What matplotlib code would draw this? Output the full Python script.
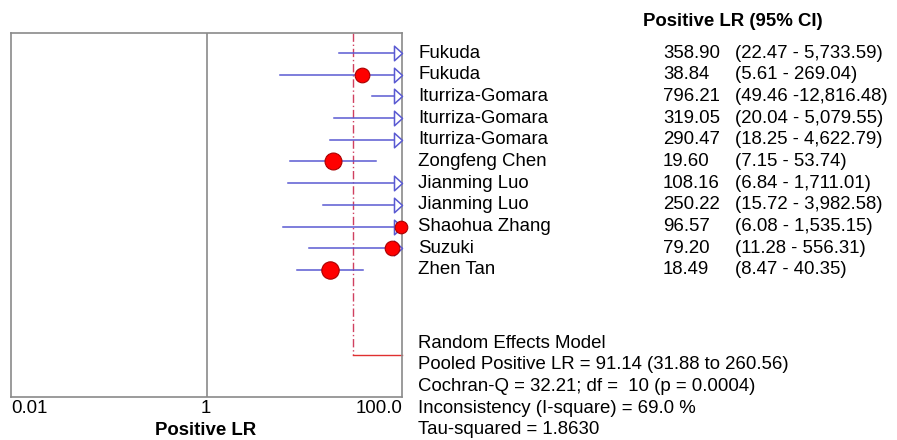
import numpy as np
import matplotlib
matplotlib.use("Agg")
import matplotlib.pyplot as plt
from matplotlib.path import Path

# data
studies = ["Fukuda", "Fukuda", "Iturriza-Gomara", "Iturriza-Gomara", "Iturriza-Gomara",
           "Zongfeng Chen", "Jianming Luo", "Jianming Luo", "Shaohua Zhang", "Suzuki", "Zhen Tan"]
lr = [358.90, 38.84, 796.21, 319.05, 290.47, 19.60, 108.16, 250.22, 96.57, 79.20, 18.49]
lo = [22.47, 5.61, 49.46, 20.04, 18.25, 7.15, 6.84, 15.72, 6.08, 11.28, 8.47]
hi = [5733.59, 269.04, 12816.48, 5079.55, 4622.79, 53.74, 1711.01, 3982.58, 1535.15, 556.31, 40.35]
ci_text = ["(22.47 - 5,733.59)", "(5.61 - 269.04)", "(49.46 -12,816.48)", "(20.04 - 5,079.55)",
           "(18.25 - 4,622.79)", "(7.15 - 53.74)", "(6.84 - 1,711.01)", "(15.72 - 3,982.58)",
           "(6.08 - 1,535.15)", "(11.28 - 556.31)", "(8.47 - 40.35)"]
pooled = 91.14
pooled_lo = 31.88
pooled_hi = 260.56
tau2 = 1.8630
summary = ["Random Effects Model",
           "Pooled Positive LR = 91.14 (31.88 to 260.56)",
           "Cochran-Q = 32.21; df =  10 (p = 0.0004)",
           "Inconsistency (I-square) = 69.0 %",
           "Tau-squared = 1.8630"]

plt.rcParams['font.family'] = ['Liberation Sans', 'DejaVu Sans']
W, H = 897, 440
fig = plt.figure(figsize=(W / 100, H / 100), dpi=100)

def fx(x):
    return x / W

def fy(y):
    return 1 - y / H

ax = fig.add_axes([fx(11), fy(397), fx(402) - fx(11), (397 - 33) / H])
ax.set_xscale('log')
ax.set_xlim(0.01, 100)
ax.set_ylim(15.85, -0.92)
ax.set_xticks([])
ax.set_yticks([])
ax.minorticks_off()
for s in ax.spines.values():
    s.set_color('#8a8a8a')
    s.set_linewidth(1.2)
ax.axvline(1, color='#8a8a8a', lw=1.2)

blue = '#5a5ad2'
rows = np.arange(len(studies))
# random effects weights -> marker size
se = (np.log(hi) - np.log(lo)) / (2 * 1.96)
w = 1 / (se ** 2 + tau2)
msize = 12.5 * np.sqrt(w / w.max())

arrow = Path([(-0.55, -1), (0.55, 0), (-0.55, 1), (-0.55, -1)],
             [Path.MOVETO, Path.LINETO, Path.LINETO, Path.CLOSEPOLY])

pooled_row = 13.9
ax.plot([pooled_lo, pooled_lo], [-0.92, pooled_row], color='#d04060', lw=1, ls=(0, (6, 2, 1, 2)))
ax.plot([pooled_lo, 100], [pooled_row, pooled_row], color='#e03030', lw=1, clip_on=False)

for i in rows:
    x0 = lo[i]
    x1 = min(hi[i], 100)
    ax.plot([x0, x1], [i, i], color=blue, lw=1.1, zorder=2)
    if hi[i] > 100:
        ax.plot(91, i, marker=arrow, ms=10.5, mfc='white', mec=blue, mew=1.1, zorder=3, clip_on=False)
    if lr[i] < 100:
        ax.plot(lr[i], i, marker='o', ms=msize[i], mfc='#ff0000', mec='#aa0000', mew=0.8,
                zorder=4, clip_on=False)

fs = 13.4
fig.text(fx(733), fy(21), "Positive LR (95% CI)", fontsize=fs, fontweight='bold', ha='center', va='center')
for i in rows:
    y = 53 + i * 21.7
    fig.text(fx(418), fy(y), studies[i], fontsize=fs, ha='left', va='center')
    fig.text(fx(663), fy(y), "%.2f" % lr[i], fontsize=fs, ha='left', va='center')
    fig.text(fx(735), fy(y), ci_text[i], fontsize=fs, ha='left', va='center')

for k, line in enumerate(summary):
    fig.text(fx(418), fy(343 + k * 21.7), line, fontsize=fs, ha='left', va='center')

fig.text(fx(11), fy(408), "0.01", fontsize=fs, ha='left', va='center')
fig.text(fx(206), fy(408), "1", fontsize=fs, ha='center', va='center')
fig.text(fx(402), fy(408), "100.0", fontsize=fs, ha='right', va='center')
fig.text(fx(206), fy(430), "Positive LR", fontsize=fs, fontweight='bold', ha='center', va='center')

fig.savefig("out.png", dpi=100)
